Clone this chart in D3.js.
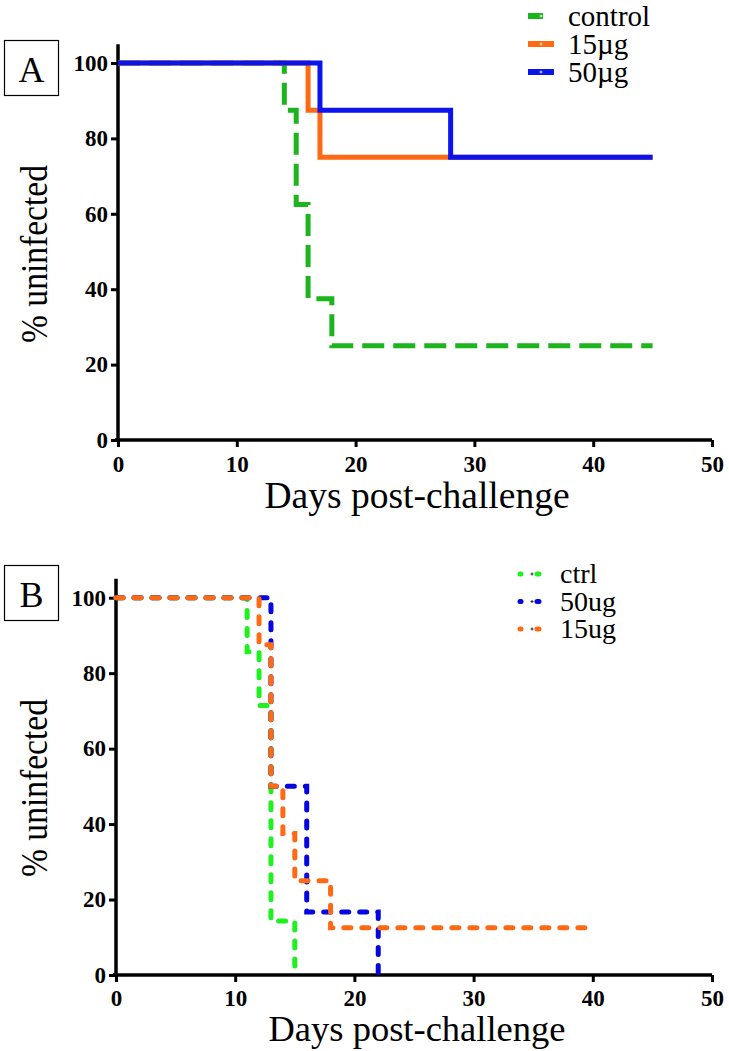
<!DOCTYPE html>
<html>
<head>
<meta charset="utf-8">
<script src="https://cdn.jsdelivr.net/npm/d3@7"></script>
<style>
	html, body { margin: 0; padding: 0; background: #fff; }
	svg { display: block; }
	.tick text { font-weight: bold; font-size: 23px; fill: #000; }
</style>
</head>
<body>
<svg id="main-svg" width="729" height="1051" font-family="Liberation Serif, serif"></svg>
<script>

// ticks
var dayTicks = [ 0, 10, 20, 30, 40, 50 ],
	pctTicks = [ 0, 20, 40, 60, 80, 100 ];

// panel A
var aNames = [ 'control', '15\u00b5g', '50\u00b5g' ],
	aControlDays = [ 0, 14, 15, 16, 18, 45 ],
	aControlPct = [ 100, 87.5, 62.5, 37.5, 25, 25 ],
	a15Days = [ 0, 16, 17, 45 ],
	a15Pct = [ 100, 87.5, 75, 75 ],
	a50Days = [ 0, 17, 28, 45 ],
	a50Pct = [ 100, 87.5, 75, 75 ];

// panel B
var bNames = [ 'ctrl', '50ug', '15ug' ],
	bCtrlDays = [ 0, 11, 12, 13, 15 ],
	bCtrlPct = [ 100, 85.7, 71.4, 14.3, 0 ],
	b50Days = [ 0, 13, 16, 22 ],
	b50Pct = [ 100, 50, 16.7, 0 ],
	b15Days = [ 0, 12, 13, 14, 15, 18, 40 ],
	b15Pct = [ 100, 87.5, 50, 37.5, 25, 12.5, 12.5 ];


var svg = d3.select( 'svg#main-svg' ),
	SERIF = 'Liberation Serif, serif';

function zip( days, pct ) {
	return days.map( function( d, i ) { return [ d, pct[ i ] ]; } );
}

function drawPanel( opt ) {

	var x = d3.scaleLinear().domain( [ 0, 50 ] ).range( [ opt.left, 712 ] ),
		y = d3.scaleLinear().domain( [ 0, 100 ] ).range( [ opt.bottom, opt.top100 ] ),
		g = svg.append( 'g' ).attr( 'font-family', SERIF );

	// axes
	var yAxis = g.append( 'g' )
		.attr( 'transform', 'translate(' + opt.left + ',0)' )
		.call( d3.axisLeft( y ).tickValues( pctTicks ).tickSize( 7 ).tickSizeOuter( 0 ).tickPadding( 3 ) );
	yAxis.select( '.domain' ).attr( 'd', 'M0,' + ( y( 0 ) + 1.5 ) + 'V' + y( 105 ) );

	var xAxis = g.append( 'g' )
		.attr( 'transform', 'translate(0,' + opt.bottom + ')' )
		.call( d3.axisBottom( x ).tickValues( dayTicks ).tickSize( 7 ).tickSizeOuter( 0 ).tickPadding( opt.xPad ) );
	xAxis.select( '.domain' ).attr( 'd', 'M' + ( opt.left - 3 ) + ',0H' + x( 50 ) );

	g.selectAll( '.domain' ).attr( 'stroke', '#000' ).attr( 'stroke-width', 3.5 );
	g.selectAll( '.tick line' ).attr( 'stroke', '#000' ).attr( 'stroke-width', 3 );
	yAxis.attr( 'font-family', SERIF );
	xAxis.attr( 'font-family', SERIF );

	// curves
	var line = d3.line()
		.x( function( d ) { return x( d[ 0 ] ); } )
		.y( function( d ) { return y( d[ 1 ] ); } )
		.curve( d3.curveStepAfter );

	opt.series.forEach( function( s ) {
		g.append( 'path' )
			.attr( 'd', line( zip( s.days, s.pct ) ) )
			.attr( 'fill', 'none' )
			.attr( 'stroke', s.color )
			.attr( 'stroke-width', 5 )
			.attr( 'stroke-linecap', s.cap || 'butt' )
			.attr( 'stroke-dasharray', s.dash || null );
	} );

	// panel letter box
	g.append( 'rect' )
		.attr( 'x', 4.5 ).attr( 'y', opt.boxY + 0.5 )
		.attr( 'width', 54 ).attr( 'height', 55 )
		.attr( 'fill', 'none' ).attr( 'stroke', '#000' ).attr( 'stroke-width', 1.2 );
	g.append( 'text' )
		.attr( 'x', 31.5 ).attr( 'y', opt.boxY + 42 )
		.attr( 'text-anchor', 'middle' )
		.attr( 'font-size', 36 )
		.text( opt.letter );

	// axis titles
	g.append( 'text' )
		.attr( 'transform', 'translate(47,' + opt.yTitle + ') rotate(-90)' )
		.attr( 'text-anchor', 'middle' )
		.attr( 'font-size', 38 )
		.attr( 'textLength', 178 )
		.attr( 'lengthAdjust', 'spacingAndGlyphs' )
		.text( '%  uninfected' );
	g.append( 'text' )
		.attr( 'x', 417 ).attr( 'y', opt.xTitle )
		.attr( 'text-anchor', 'middle' )
		.attr( 'font-size', opt.xTitleSize )
		.text( 'Days post-challenge' );

	// legend
	opt.series.slice().sort( function( a, b ) { return a.order - b.order; } ).forEach( function( s, i ) {
		var ly = opt.legendY + i * opt.legendStep;
		opt.drawKey( g, s, ly );
		g.append( 'text' )
			.attr( 'x', opt.legendX ).attr( 'y', ly + opt.legendDy )
			.attr( 'font-size', opt.legendFont )
			.text( s.name );
	} );
}

// panel A : solid bars with tiny white marker
drawPanel( {
	letter: 'A', left: 118, bottom: 440, top100: 63, boxY: 40, xPad: 9,
	yTitle: 254, xTitle: 508, xTitleSize: 37.5,
	legendX: 568, legendY: 16, legendStep: 28, legendFont: 29, legendDy: 10,
	series: [
		{ name: aNames[ 0 ], order: 0, days: aControlDays, pct: aControlPct, color: '#1db41d', dash: '22,9' },
		{ name: aNames[ 1 ], order: 1, days: a15Days, pct: a15Pct, color: '#fe6a14' },
		{ name: aNames[ 2 ], order: 2, days: a50Days, pct: a50Pct, color: '#0c14ee' }
	],
	drawKey: function( g, s, ly ) {
		var x2 = s.dash ? 543 : 554;
		g.append( 'line' ).attr( 'x1', 528 ).attr( 'x2', x2 ).attr( 'y1', ly ).attr( 'y2', ly )
			.attr( 'stroke', s.color ).attr( 'stroke-width', 6 );
		g.append( 'path' ).attr( 'd', 'M539.5,' + ly + 'h3M541,' + ( ly - 1.5 ) + 'v3' )
			.attr( 'stroke', '#fff' ).attr( 'stroke-width', 0.8 );
	}
} );

// panel B : short dashes
drawPanel( {
	letter: 'B', left: 116, bottom: 975, top100: 597.7, boxY: 565, xPad: 8,
	yTitle: 788, xTitle: 1041, xTitleSize: 36.5,
	legendX: 560, legendY: 574, legendStep: 27.5, legendFont: 28, legendDy: 9,
	series: [
		{ name: bNames[ 0 ], order: 0, days: bCtrlDays, pct: bCtrlPct, color: '#1ff01f', dash: '7,11', cap: 'round' },
		{ name: bNames[ 1 ], order: 1, days: b50Days, pct: b50Pct, color: '#0505e0', dash: '7,11', cap: 'round' },
		{ name: bNames[ 2 ], order: 2, days: b15Days, pct: b15Pct, color: '#fe6a14', dash: '7,11', cap: 'round' }
	],
	drawKey: function( g, s, ly ) {
		g.append( 'line' ).attr( 'x1', 520 ).attr( 'x2', 521 ).attr( 'y1', ly ).attr( 'y2', ly )
			.attr( 'stroke', s.color ).attr( 'stroke-width', 5 ).attr( 'stroke-linecap', 'round' );
		g.append( 'line' ).attr( 'x1', 537 ).attr( 'x2', 539 ).attr( 'y1', ly ).attr( 'y2', ly )
			.attr( 'stroke', s.color ).attr( 'stroke-width', 5 ).attr( 'stroke-linecap', 'round' );
		g.append( 'path' ).attr( 'd', 'M530.5,' + ly + 'h3M532,' + ( ly - 1.5 ) + 'v3' )
			.attr( 'stroke', '#000' ).attr( 'stroke-width', 0.8 );
	}
} );

</script>
</body>
</html>
